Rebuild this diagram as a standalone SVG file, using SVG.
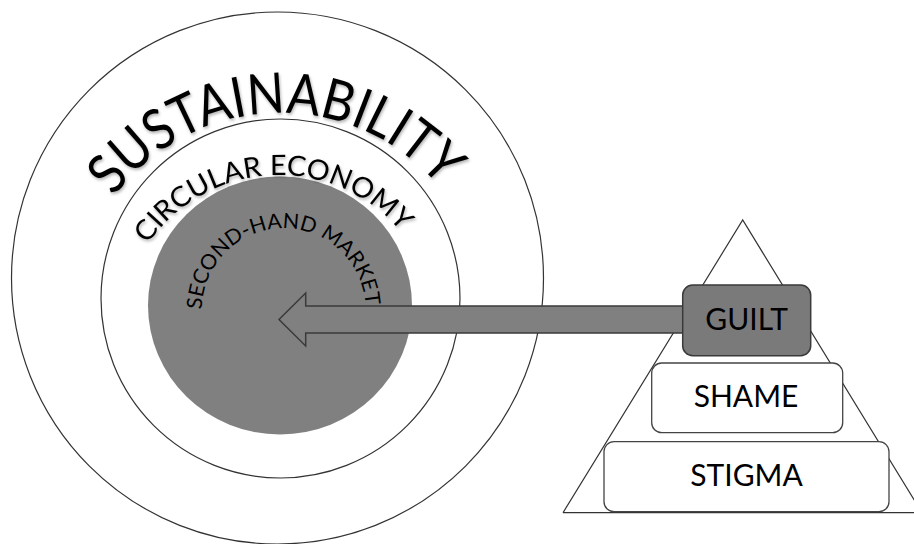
<svg xmlns="http://www.w3.org/2000/svg" width="914" height="544" viewBox="0 0 914 544">
  <defs>
    <style>
      .ring { fill: none; stroke: #333; stroke-width: 1.2; }
      .core { fill: #808080; stroke: none; }
      .arc-label { font-family: Lato, "Open Sans", "Liberation Sans", sans-serif; fill: #000; }
      .tier { fill: #fff; stroke: #444; stroke-width: 1.3; }
      .tier-top { fill: #7a7a7a; stroke: #3a3a3a; stroke-width: 1.5; }
      .tier-label { font-family: Lato, "Open Sans", "Liberation Sans", sans-serif; font-size: 30px; fill: #000; text-anchor: middle; }
      .pyramid { fill: none; stroke: #333; stroke-width: 1.2; }
      .link { fill: #808080; stroke: #3a3a3a; stroke-width: 1.5; stroke-linejoin: miter; }
    </style>
    <filter id="soft-shadow" x="-10%" y="-10%" width="120%" height="130%">
      <feDropShadow dx="1" dy="2" stdDeviation="1.5" flood-color="#000" flood-opacity="0.3"/>
    </filter>
    <!-- baselines for the curved labels -->
    <path id="arc-sustainability" d="M 72.6 321 A 208 208 0 0 1 488.6 321"/>
    <path id="arc-circular" d="M 120 334 A 159 159 0 0 1 438 334"/>
    <path id="arc-secondhand" d="M 212.7 351.3 A 82 82 0 1 1 354.7 351.3"/>
  </defs>

  <!-- innermost disc first so the ring labels sit on top of it -->
  <g id="second-hand-market">
    <ellipse class="core" cx="280" cy="305.5" rx="132" ry="129"/>
    <text class="arc-label" font-size="21">
      <textPath href="#arc-secondhand" startOffset="169.6" text-anchor="middle" textLength="252" lengthAdjust="spacingAndGlyphs">SECOND-HAND MARKET</textPath>
    </text>
  </g>

  <g id="circular-economy">
    <circle class="ring" cx="280.5" cy="298.5" r="179.5"/>
    <text class="arc-label" font-size="28" filter="url(#soft-shadow)">
      <textPath href="#arc-circular" startOffset="241.8" text-anchor="middle" textLength="293" lengthAdjust="spacingAndGlyphs">CIRCULAR ECONOMY</textPath>
    </text>
  </g>

  <g id="sustainability">
    <circle class="ring" cx="277.5" cy="278" r="266"/>
    <text class="arc-label" font-size="56" filter="url(#soft-shadow)">
      <textPath href="#arc-sustainability" startOffset="320.5" text-anchor="middle" textLength="375" lengthAdjust="spacingAndGlyphs">SUSTAINABILITY</textPath>
    </text>
  </g>

  <!-- pyramid outline -->
  <g id="pyramid">
    <path class="pyramid" d="M 563 512.7 L 742.7 220 L 922 512.7"/>
    <line class="pyramid" x1="563" y1="512.7" x2="914" y2="512.7"/>
  </g>

  <!-- connector: block arrow from GUILT into the core -->
  <g id="connectors">
    <polygon class="link" points="690,306 305.7,306 305.7,293 279,319.5 305.7,346 305.7,333 690,333"/>
  </g>

  <!-- pyramid tiers -->
  <g id="stigma">
    <rect class="tier" x="604" y="441.7" width="285" height="70" rx="10"/>
    <text class="tier-label" x="746.5" y="486">STIGMA</text>
  </g>
  <g id="shame">
    <rect class="tier" x="651.7" y="363" width="191" height="69.7" rx="10"/>
    <text class="tier-label" x="746" y="407">SHAME</text>
  </g>
  <g id="guilt">
    <rect class="tier-top" x="682.7" y="285" width="128" height="70.7" rx="10"/>
    <text class="tier-label" x="746.7" y="330">GUILT</text>
  </g>
</svg>
